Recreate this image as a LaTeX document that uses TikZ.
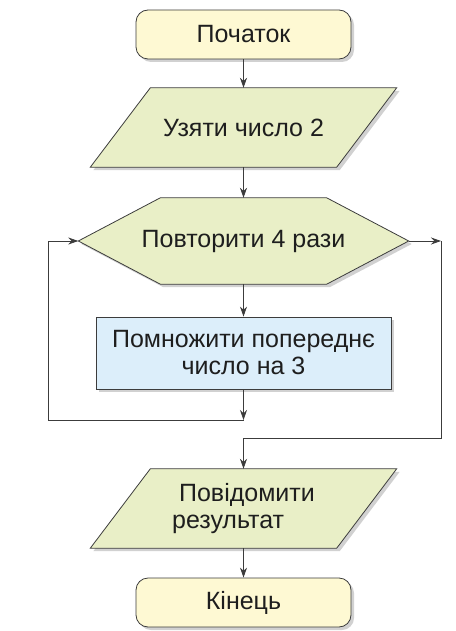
\documentclass[tikz,border=0pt]{standalone}
\usepackage{fontspec}
\setmainfont{Liberation Sans}
\usepackage{tikz}
\usetikzlibrary{shapes.geometric, arrows.meta, positioning, shadows, backgrounds}
\definecolor{fcline}{HTML}{3C3C3C}
\definecolor{fcterm}{HTML}{FEF9D3}
\definecolor{fcio}{HTML}{E9EFC7}
\definecolor{fcproc}{HTML}{DCEEFA}
\definecolor{fctext}{HTML}{1E1E1E}

\begin{document}
\begin{tikzpicture}[
    x=1pt, y=-1pt,
    shade/.style={drop shadow={shadow xshift=3pt, shadow yshift=-3pt, fill=black, opacity=0.18}},
    base/.style={draw=fcline, line width=0.8pt, text=fctext, font=\fontsize{25}{27}\selectfont, shade},
    terminal/.style={base, rectangle, rounded corners=12pt, fill=fcterm, minimum width=215pt, minimum height=49pt},
    iobox/.style={rectangle, text=fctext, font=\fontsize{25}{27}\selectfont, minimum width=306pt, minimum height=79pt},
    loopbox/.style={rectangle, text=fctext, font=\fontsize{25}{27}\selectfont, minimum width=330pt, minimum height=86pt},
    outline/.style={draw=fcline, line width=0.8pt, fill=fcio, shade},
    process/.style={base, rectangle, fill=fcproc, minimum width=295pt, minimum height=72pt, align=center},
    arr/.style={draw=fcline, line width=0.8pt, -{Stealth[length=10pt, width=7pt]}},
    line/.style={draw=fcline, line width=0.8pt},
]
\useasboundingbox (0,0) rectangle (455,631);

\node[terminal] (start) at (243.5,34.5) {Початок};
\node[iobox] (take) at (243.5,127.5) {Узяти число 2};
\node[loopbox] (rep) at (243.5,241) {Повторити 4 рази};
\node[process] (mult) at (243.5,353) {Помножити попереднє\\число на 3};
\node[iobox, align=left] (report) at (243.5,508.5) {\hspace*{7pt}Повідомити\\результат};
\node[terminal] (finish) at (243.5,602.5) {Кінець};

\begin{scope}[on background layer]
\draw[outline] ([xshift=60pt]take.north west) -- (take.north east)
    -- ([xshift=-60pt]take.south east) -- (take.south west) -- cycle;
\draw[outline] (rep.west) -- ([xshift=82pt]rep.north west) -- ([xshift=-82pt]rep.north east)
    -- (rep.east) -- ([xshift=-82pt]rep.south east) -- ([xshift=82pt]rep.south west) -- cycle;
\draw[outline] ([xshift=60pt]report.north west) -- (report.north east)
    -- ([xshift=-60pt]report.south east) -- (report.south west) -- cycle;
\end{scope}

\coordinate (backin) at (243.5,420);
\coordinate (backcorner) at (48,420);
\coordinate (exitcorner) at (441,241);
\coordinate (exitdown) at (441,438);
\coordinate (exitin) at (243.5,438);

\draw[arr] (start) -- (take);
\draw[arr] (take) -- (rep);
\draw[arr] (rep) -- (mult);
\draw[arr] (mult) -- (backin);
\draw[arr] (backin) -- (backcorner) |- (rep.west);
\draw[arr] (rep.east) -- (exitcorner);
\draw[line] (exitcorner) -- (exitdown) -- (exitin);
\draw[arr] (exitin) -- (report);
\draw[arr] (report) -- (finish);

\end{tikzpicture}
\end{document}
